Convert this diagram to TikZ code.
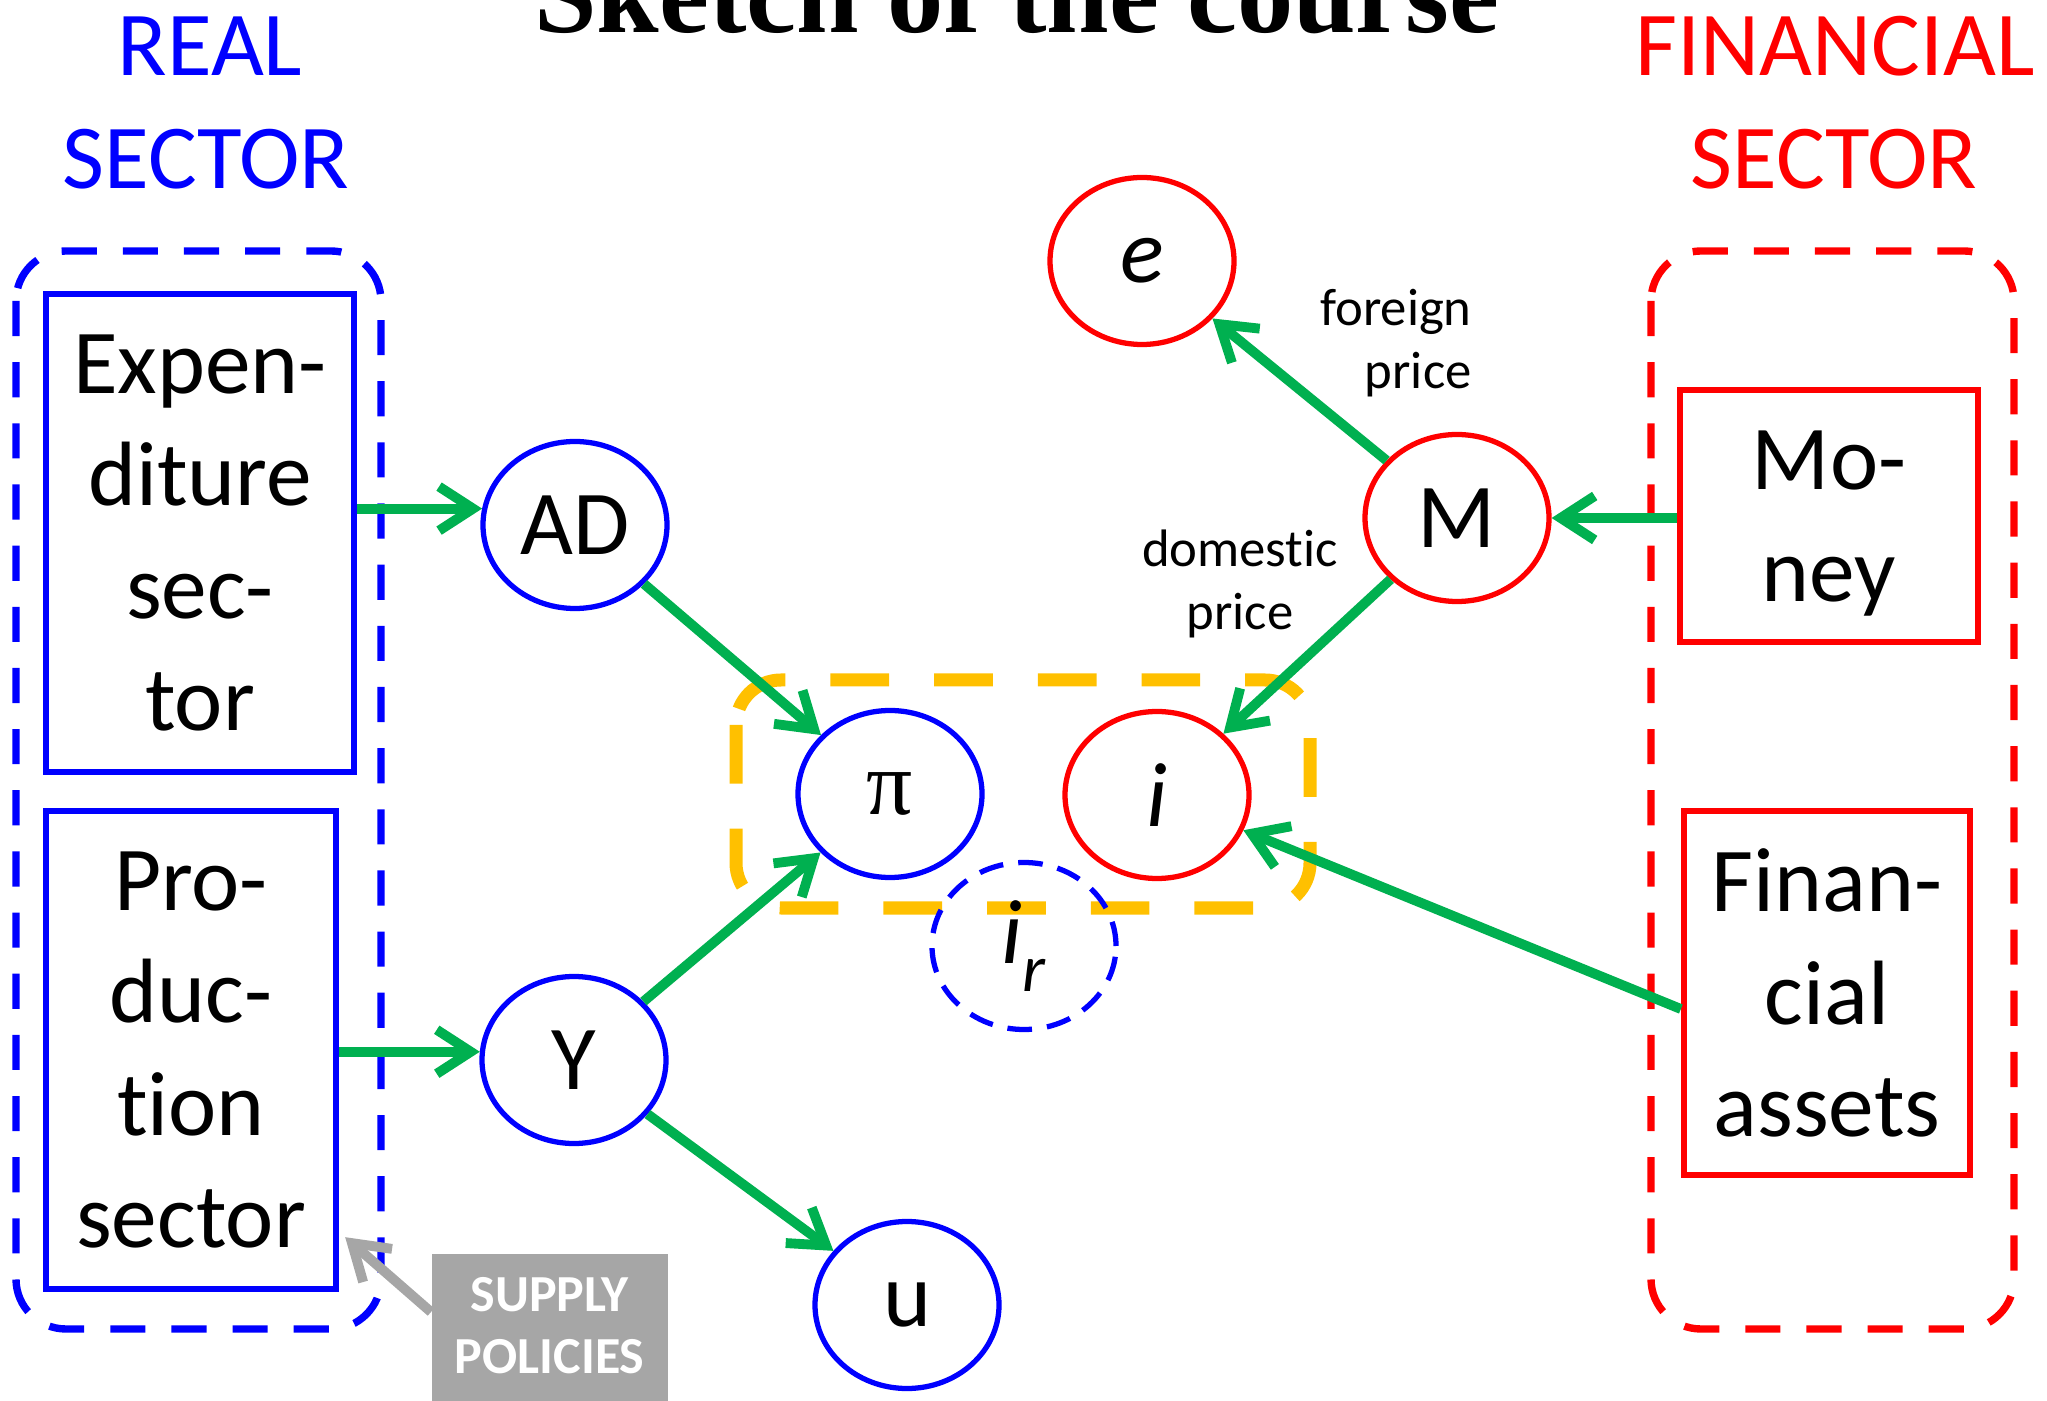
\documentclass[tikz,border=0pt]{standalone}
\usepackage{fontspec}
\setmainfont{Carlito}[Ligatures=NoCommon]
\newfontfamily\seriffont{Liberation Serif}
\usetikzlibrary{arrows.meta,shapes.geometric}
\definecolor{flowgreen}{HTML}{00B050}
\definecolor{boxgold}{HTML}{FFC000}
\definecolor{policygray}{HTML}{A6A6A6}
\tikzset{
	bubble/.style={ellipse, draw, line width=1.5pt, minimum width=1.84cm, minimum height=1.67cm, inner sep=0pt, font=\fontsize{26}{31}\selectfont},
	sectorbox/.style={draw, line width=1.8pt, align=center, inner sep=0pt, text=black, font=\fontsize{26}{31.9}\selectfont},
	sectorframe/.style={line width=2.1pt, dash pattern=on 10pt off 7.4pt, rounded corners=0.5cm},
	goldframe/.style={draw=boxgold, line width=3.7pt, dash pattern=on 16.7pt off 12.8pt, rounded corners=0.45cm},
	heading/.style={anchor=base, font=\fontsize{26}{31}\selectfont},
	pricelabel/.style={font=\fontsize{15}{17.9}\selectfont},
	policy/.style={fill=policygray, text=white, align=center, font=\bfseries\fontsize{14.8}{17.6}\selectfont, minimum width=2.36cm, inner xsep=0pt, inner ysep=0.24cm, text depth=0.25cm},
	flow/.style={draw=flowgreen, line width=2.8pt, -{Straight Barb[length=3.4mm,width=4.4mm]}},
	hint/.style={draw=policygray, line width=2.8pt, -{Straight Barb[length=3.4mm,width=4.4mm]}},
}

\begin{document}
\begin{tikzpicture}
	\useasboundingbox (0,0) rectangle (20.47,-14.01);
	\node[anchor=base, font=\seriffont\bfseries\fontsize{32}{38}\selectfont] (title) at (10.17,-0.33) {Sketch of the course};
	\node[heading, text=blue] (realA) at (2.10,-0.76) {REAL};
	\node[heading, text=blue] (realB) at (2.06,-1.89) {SECTOR};
	\node[heading, text=red] (finA) at (18.35,-0.76) {FINANCIAL};
	\node[heading, text=red] (finB) at (18.34,-1.89) {SECTOR};

	\draw[sectorframe, blue] (0.16,-2.51) rectangle (3.81,-13.29);
	\draw[sectorframe, red] (16.51,-2.51) rectangle (20.14,-13.29);
	\draw[goldframe] (7.36,-6.80) rectangle (13.10,-9.08);

	\node[sectorbox, draw=blue, minimum width=3.08cm, minimum height=4.78cm] (exp) at (2.00,-5.33) {Expen-\\diture\\sec-\\tor};
	\node[sectorbox, draw=blue, minimum width=2.90cm, minimum height=4.78cm] (prod) at (1.91,-10.50) {Pro-\\duc-\\tion\\sector};
	\node[sectorbox, draw=red, minimum width=2.98cm, minimum height=2.52cm, text depth=0pt] (money) at (18.29,-5.16) {Mo-\\ney};
	\node[sectorbox, draw=red, minimum width=2.86cm, minimum height=3.64cm] (fin) at (18.27,-9.93) {Finan-\\cial\\assets};

	\node[bubble, draw=red] (e) at (11.42,-2.61) {\textit{e}};
	\node[bubble, draw=blue] (ad) at (5.75,-5.25) {AD};
	\node[bubble, draw=red] (m) at (14.57,-5.18) {M};
	\node[bubble, draw=blue] (pi) at (8.90,-7.94) {\seriffont π};
	\node[bubble, draw=red] (i) at (11.57,-7.95) {\textit{i}};
	\node[bubble, draw=blue, dash pattern=on 7pt off 4.3pt] (ir) at (10.24,-9.46) {\textit{i}\raisebox{-0.3em}{\fontsize{19}{19}\selectfont\textit{r}}};
	\node[bubble, draw=blue] (y) at (5.74,-10.60) {Y};
	\node[bubble, draw=blue] (u) at (9.07,-13.05) {u};

	\node[pricelabel, align=right, anchor=east] (foreign) at (14.84,-3.43) {foreign\\price};
	\node[pricelabel, align=center] (domestic) at (12.40,-5.84) {domestic\\price};

	\node[policy, anchor=north west] (policy) at (4.31,-12.53) {SUPPLY\\POLICIES};

	\draw[flow] (exp.east |- ad.170) -- (ad.170);
	\draw[flow] (prod.east |- y.175) -- (y.175);
	\draw[flow] (ad) -- (pi);
	\draw[flow] (y) -- (pi);
	\draw[flow] (y) -- (u);
	\draw[flow] (m) -- (e);
	\draw[flow] (m) -- (i);
	\draw[flow] (money.west |- m) -- (m);
	\draw[flow] ([yshift=-0.16cm]fin.west) -- (i);
	\draw[hint] ([yshift=-0.59cm]policy.north west) -- ([xshift=0.06cm,yshift=0.55cm]prod.south east);
\end{tikzpicture}
\end{document}
